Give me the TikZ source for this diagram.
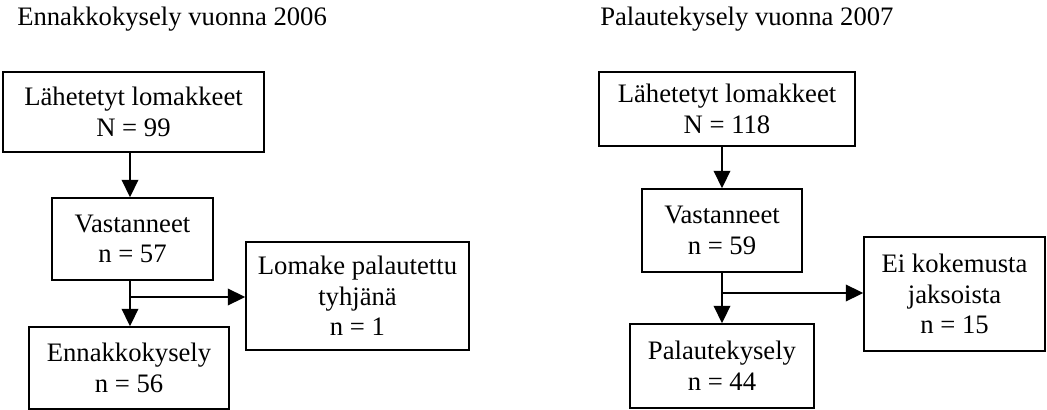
\documentclass[tikz,border=0pt]{standalone}
\usepackage{fontspec}
\setmainfont{Liberation Serif}
\usetikzlibrary{arrows.meta}
\tikzset{
  box/.style={draw, line width=1.3pt, align=center, inner sep=0pt, font=\fontsize{20}{23}\selectfont},
  arr/.style={line width=1.3pt, -{Triangle[length=13pt,width=12.5pt]}},
  heading/.style={anchor=base west, inner sep=0pt, font=\fontsize{20}{23}\selectfont}
}

\begin{document}
\begin{tikzpicture}[x=0.75pt,y=-0.75pt]
    \useasboundingbox (0,0) rectangle (1047,410);
    % 2006 survey
    \node[heading] (titleL) at (17,26) {Ennakkokysely vuonna 2006}; % title
    \node[box,minimum width=195.75pt,minimum height=60pt] (sentL) at (133.5,112) {Lähetetyt lomakkeet\\N = 99}; % sent forms
    \node[box,minimum width=120.75pt,minimum height=61.5pt] (vasL) at (132.5,239) {Vastanneet\\n = 57}; % answered
    \node[box,minimum width=150pt,minimum height=61.5pt] (ennL) at (129,368) {Ennakkokysely\\n = 56}; % used
    \node[box,minimum width=167.25pt,minimum height=81pt] (tyhL) at (357.5,296) {Lomake palautettu\\tyhjänä\\n = 1}; % empty
    \coordinate (trunkL) at (130,297); % branch point
    \draw[arr] (sentL.south -| trunkL) -- (vasL.north -| trunkL); % sent -> answered
    \draw[arr] (vasL.south -| trunkL) -- (ennL.north -| trunkL); % answered -> used
    \draw[arr] (trunkL) -- (trunkL -| tyhL.west); % answered -> empty
    % 2007 survey
    \node[heading] (titleR) at (600,26) {Palautekysely vuonna 2007}; % title
    \node[box,minimum width=192pt,minimum height=55.5pt] (sentR) at (727,109) {Lähetetyt lomakkeet\\N = 118}; % sent forms
    \node[box,minimum width=120pt,minimum height=62.25pt] (vasR) at (722,230.5) {Vastanneet\\n = 59}; % answered
    \node[box,minimum width=138pt,minimum height=63pt] (palR) at (722,366) {Palautekysely\\n = 44}; % used
    \node[box,minimum width=135.75pt,minimum height=85.5pt] (eiR) at (954.5,294) {Ei kokemusta\\jaksoista\\n = 15}; % no experience
    \coordinate (trunkR) at (722,293); % branch point
    \draw[arr] (sentR.south -| trunkR) -- (vasR.north -| trunkR); % sent -> answered
    \draw[arr] (vasR.south -| trunkR) -- (palR.north -| trunkR); % answered -> used
    \draw[arr] (trunkR) -- (trunkR -| eiR.west); % answered -> no experience
\end{tikzpicture}
\end{document}
